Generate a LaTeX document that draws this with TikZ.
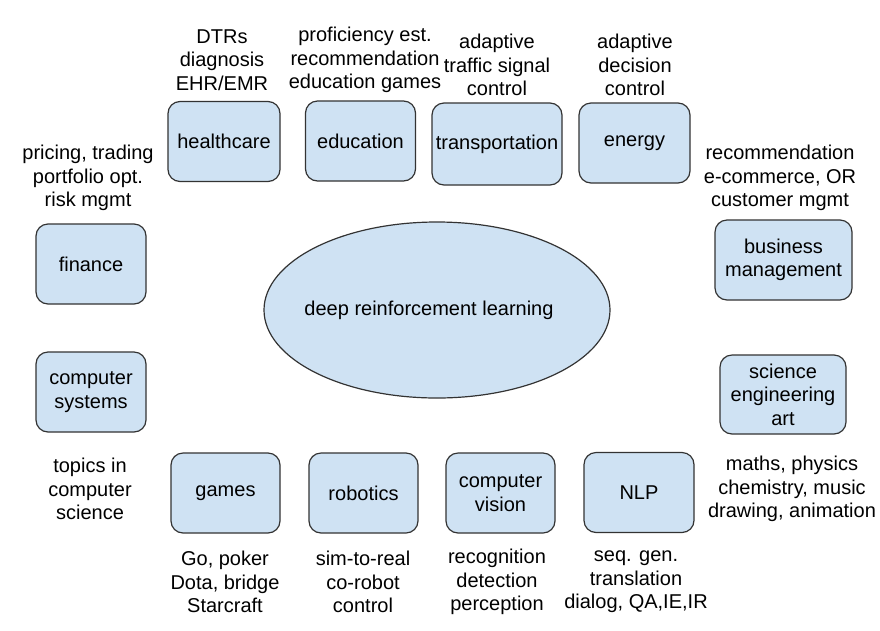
\documentclass[tikz,border=0pt]{standalone}
\usepackage{fontspec}
\setmainfont{Liberation Sans}
\usetikzlibrary{shapes.geometric}
\definecolor{boxfill}{HTML}{CFE2F3}
\definecolor{boxline}{HTML}{333333}
\begin{document}
\begin{tikzpicture}[x=1pt,y=-1pt,
  every node/.style={font=\fontsize{20}{23.5}\selectfont, align=center, inner sep=0pt},
  area/.style={draw=boxline, fill=boxfill, line width=1.2pt, rounded corners=12pt, minimum width=#1, minimum height=80pt},
  area/.default=110pt,
  lbl/.style={anchor=center}]
\useasboundingbox (0,0) rectangle (880,630);
% central ellipse
\node[ellipse, draw=boxline, fill=boxfill, line width=1.2pt, minimum width=346pt, minimum height=176pt] (drl) at (437,310) {};
\node at (429,310) (drltext) {deep reinforcement learning};
% top row
\node[area=112pt, minimum height=80pt] (health) at (224,141.5) {healthcare};
\node[area=110pt] (edu) at (360.5,141) {education};
\node[area=130pt, minimum height=82pt] (trans) at (497,144) {transportation};
\node[area=111pt] (energy) at (634.5,143) {energy};
% sides
\node[area=110pt] (fin) at (91,264) {finance};
\node[area=137pt, minimum height=80pt] (biz) at (783.5,260) {business\\management};
\node[area=110pt] (comp) at (91,392) {computer\\systems};
\node[area=126pt, minimum height=79pt] (sci) at (783,394.5) {science\\engineering\\art};
% bottom row
\node[area=109pt] (games) at (225.5,493) {games};
\node[area=109pt] (robot) at (363.5,493) {robotics};
\node[area=109pt] (cv) at (500.5,493) {computer\\vision};
\node[area=110pt, minimum height=80pt] (nlp) at (639,492.5) {NLP};
% labels
\node[lbl] (lhealth) at (222,60) {DTRs\\diagnosis\\EHR/EMR};
\node[lbl] (ledu) at (365,60) {proficiency est.\\recommendation\\education games};
\node[lbl] (ltrans) at (497,65) {adaptive\\traffic signal\\control};
\node[lbl] (lenergy) at (635,65) {adaptive\\decision\\control};
\node[lbl] (lfin) at (88,178) {pricing, trading\\portfolio opt.\\risk mgmt};
\node[lbl] (lbiz) at (780,178) {recommendation\\e-commerce, OR\\customer mgmt};
\node[lbl] (lcomp) at (90,489) {topics in\\computer\\science};
\node[lbl] (lsci) at (792,489) {maths, physics\\chemistry, music\\drawing, animation};
\node[lbl] (lgames) at (225,582) {Go, poker\\Dota, bridge\\Starcraft};
\node[lbl] (lrobot) at (363,582) {sim-to-real\\co-robot\\control};
\node[lbl] (lcv) at (497,582) {recognition\\detection\\perception};
\node[lbl] (lnlp) at (636,582) {seq. gen.\\translation\\dialog, QA,IE,IR};
\end{tikzpicture}
\end{document}
